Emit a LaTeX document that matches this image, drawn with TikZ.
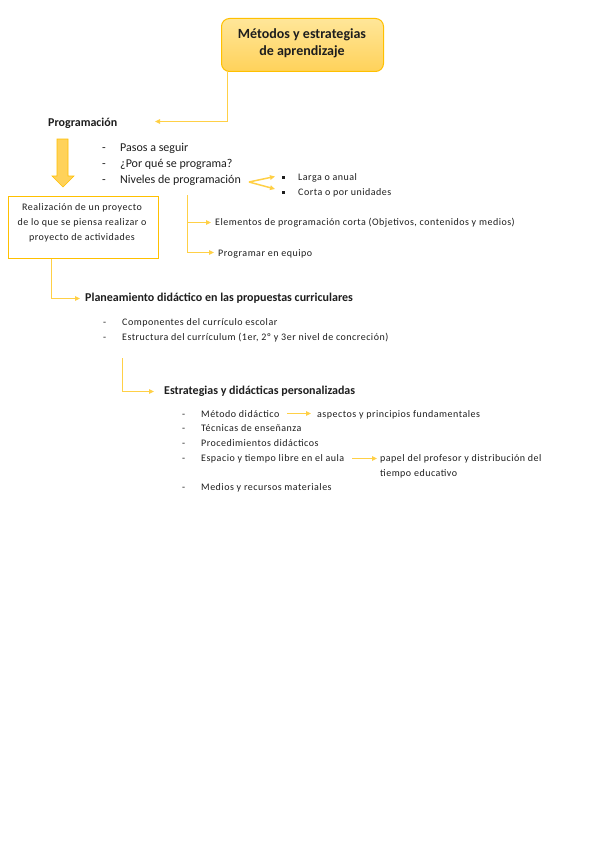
\documentclass[tikz,border=0pt]{standalone}
\usepackage{fontspec}
\setmainfont{Carlito}
\usetikzlibrary{arrows.meta}
\definecolor{gold}{RGB}{255,192,0}
\definecolor{goldline}{RGB}{255,208,70}
\definecolor{boxtop}{RGB}{255,230,153}
\definecolor{boxbot}{RGB}{255,210,90}
\definecolor{ink}{RGB}{30,30,30}
\tikzset{
  conn/.style={draw=goldline, line width=1.5pt},
  arr/.style={conn, -{Triangle[length=5pt,width=4.5pt,fill=gold]}},
  txt/.style={anchor=base west, inner sep=0pt, text=ink, font=\fontsize{10}{12}\selectfont},
  big/.style={txt, font=\fontsize{12}{14}\selectfont},
  hd/.style={txt, font=\bfseries\fontsize{12}{14}\selectfont},
  sm/.style={txt, font=\fontsize{10}{12}\selectfont\addfontfeature{LetterSpace=5}},
}
\begin{document}
\begin{tikzpicture}[x=1pt,y=-1pt]
\useasboundingbox[fill=white] (0,0) rectangle (599,848);

% title box
\node[draw=gold, line width=1pt, rounded corners=8pt, top color=boxtop, bottom color=boxbot,
      minimum width=162pt, minimum height=53pt, anchor=north west, inner sep=0pt] (title) at (221,18) {};
\node[align=center, text=ink, font=\bfseries\fontsize{14}{17.5}\selectfont, inner sep=0pt] (titletext) at (302,43.5)
  {Métodos y estrategias\\de aprendizaje};

% Programación
\node[hd] (prog) at (48,127) {Programación};
\coordinate (tdown) at (227.5,121.5);
\draw[arr] (title.south west -| tdown) -- (tdown) -- (155,121.5) coordinate (progarr);

% block arrow
\draw[draw=gold, fill=boxbot, line width=0.6pt] (57,139) -- (68,139) -- (68,176) -- (74,176) -- (63,187)
  -- (52,176) -- (57,176) -- cycle;

% list 1
\node[big] (d1) at (102,151) {-};
\node[big] (l1) at (120,151) {Pasos a seguir};
\node[big] (d2) at (102,167) {-};
\node[big] (l2) at (120,167) {¿Por qué se programa?};
\node[big] (d3) at (102,183) {-};
\node[big] (l3) at (120,183) {Niveles de programación};

% sub bullets
\node[fill=ink, minimum size=3pt, inner sep=0pt] (b1) at (283,177) {};
\node[sm] (s1) at (298,180.5) {Larga o anual};
\node[fill=ink, minimum size=3pt, inner sep=0pt] (b2) at (283,192) {};
\node[sm] (s2) at (298,195.5) {Corta o por unidades};
\coordinate (nvend) at (249,182);
\draw[arr] (nvend) -- (275,176.5);
\draw[arr] (nvend) -- (275,189);

% branch to elementos / equipo
\coordinate (vtop) at (187.5,195);
\node[sm] (elem) at (215,225.5) {Elementos de programación corta (Objetivos, contenidos y medios)};
\node[sm] (equipo) at (218,256) {Programar en equipo};
\draw[conn] (vtop) -- (187.5,252.5);
\draw[arr] (187.5,222.5) -- (211,222.5);
\draw[arr] (187.5,252.5) -- (214,252.5);

% Realización box
\node[draw=gold, line width=1.3pt, minimum width=150pt, minimum height=62pt, anchor=north west, inner sep=0pt] (real) at (7.5,195.5) {};
\node[align=center, text=ink, font=\fontsize{10}{15}\selectfont\addfontfeature{LetterSpace=5}, inner sep=0pt] (realtext) at (82,223)
  {Realización de un proyecto\\de lo que se piensa realizar o\\proyecto de actividades};

% Planeamiento
\node[hd] (plan) at (85,301.5) {Planeamiento didáctico en las propuestas curriculares};
\draw[arr] (real.south -| 51.5,0) -- (51.5,298.5) -- (80,298.5);

\node[sm] (d4) at (103,325) {-};
\node[sm] (p1) at (122,325) {Componentes del currículo escolar};
\node[sm] (d5) at (103,340) {-};
\node[sm] (p2) at (122,340) {Estructura del currículum (1er, 2º y 3er nivel de concreción)};

% Estrategias
\node[hd] (estr) at (164,394) {Estrategias y didácticas personalizadas};
\draw[arr] (122.5,358) -- (122.5,391.5) -- (154,391.5);

\node[sm] (d6) at (182,417) {-};
\node[sm] (e1) at (201,417) {Método didáctico};
\node[sm] (e1b) at (317,417) {aspectos y principios fundamentales};
\draw[arr] (287,413.5) -- (311,413.5);
\node[sm] (d7) at (182,431.5) {-};
\node[sm] (e2) at (201,431.5) {Técnicas de enseñanza};
\node[sm] (d8) at (182,446.5) {-};
\node[sm] (e3) at (201,446.5) {Procedimientos didácticos};
\node[sm] (d9) at (182,461.5) {-};
\node[sm] (e4) at (201,461.5) {Espacio y tiempo libre en el aula};
\node[sm] (e4b) at (380,461.5) {papel del profesor y distribución del};
\node[sm] (e4c) at (380,476) {tiempo educativo};
\draw[arr] (352,458.5) -- (377,458.5);
\node[sm] (d10) at (182,490) {-};
\node[sm] (e5) at (201,490) {Medios y recursos materiales};
\end{tikzpicture}
\end{document}
